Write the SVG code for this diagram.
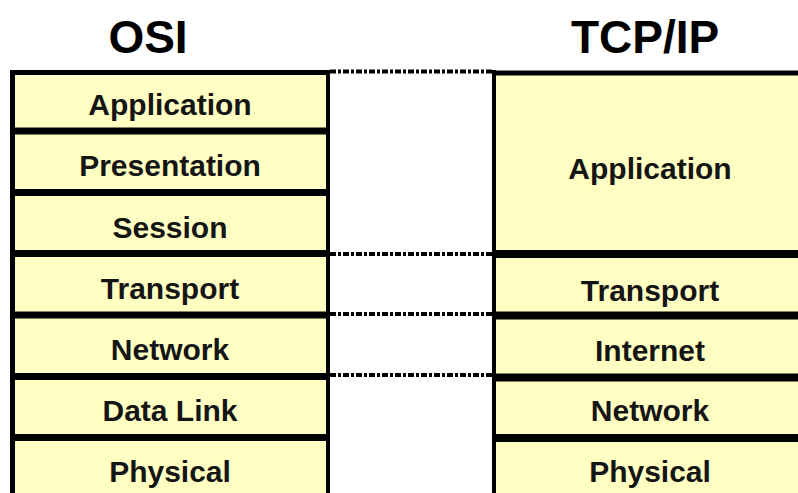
<svg xmlns="http://www.w3.org/2000/svg" width="798" height="493" viewBox="0 0 798 493">
<style>
.cell{fill:#FFFFC4;stroke:none}
.lbl{font-family:"Liberation Sans",Arial,sans-serif;font-weight:bold;font-size:30px;fill:#151515;text-anchor:middle}
.hdr{font-family:"Liberation Sans",Arial,sans-serif;font-weight:bold;font-size:46px;fill:#000;text-anchor:middle}
.frame{stroke:#000;fill:none}
.dash{stroke:#000;stroke-width:4;stroke-dasharray:6 2 3 2;fill:none}
</style>
<rect width="798" height="493" fill="#fff"/>
<text class="hdr" x="148" y="53">OSI</text>
<text class="hdr" x="645" y="53">TCP/IP</text>
<g id="osi">
<g id="osi-application"><rect class="cell" x="12" y="72" width="316" height="59"/><text class="lbl" x="170" y="115">Application</text></g>
<g id="osi-presentation"><rect class="cell" x="12" y="131" width="316" height="62"/><text class="lbl" x="170" y="176">Presentation</text></g>
<g id="osi-session"><rect class="cell" x="12" y="192" width="316" height="62"/><text class="lbl" x="170" y="238">Session</text></g>
<g id="osi-transport"><rect class="cell" x="12" y="253" width="316" height="62"/><text class="lbl" x="170" y="299">Transport</text></g>
<g id="osi-network"><rect class="cell" x="12" y="315" width="316" height="62"/><text class="lbl" x="170" y="360">Network</text></g>
<g id="osi-datalink"><rect class="cell" x="12" y="376" width="316" height="62"/><text class="lbl" x="170" y="421">Data Link</text></g>
<g id="osi-physical"><rect class="cell" x="12" y="437" width="316" height="60"/><text class="lbl" x="170" y="482">Physical</text></g>
<g class="frame">
<line x1="12.5" y1="70" x2="12.5" y2="493" stroke-width="5"/>
<line x1="328" y1="70" x2="328" y2="493" stroke-width="4"/>
<line x1="10" y1="72.5" x2="330" y2="72.5" stroke-width="5"/>
<line x1="10" y1="131" x2="330" y2="131" stroke-width="7"/>
<line x1="10" y1="192.5" x2="330" y2="192.5" stroke-width="7"/>
<line x1="10" y1="253.5" x2="330" y2="253.5" stroke-width="7"/>
<line x1="10" y1="315" x2="330" y2="315" stroke-width="7"/>
<line x1="10" y1="376.5" x2="330" y2="376.5" stroke-width="7"/>
<line x1="10" y1="437.5" x2="330" y2="437.5" stroke-width="7"/>
</g>
</g>
<g id="tcpip">
<g id="tcp-application"><rect class="cell" x="494" y="73" width="304" height="181"/><text class="lbl" x="650" y="179">Application</text></g>
<g id="tcp-transport"><rect class="cell" x="494" y="254" width="304" height="62"/><text class="lbl" x="650" y="301">Transport</text></g>
<g id="tcp-internet"><rect class="cell" x="494" y="315" width="304" height="62"/><text class="lbl" x="650" y="361">Internet</text></g>
<g id="tcp-network"><rect class="cell" x="494" y="377" width="304" height="62"/><text class="lbl" x="650" y="421">Network</text></g>
<g id="tcp-physical"><rect class="cell" x="494" y="438" width="304" height="60"/><text class="lbl" x="650" y="482">Physical</text></g>
<g class="frame">
<line x1="494" y1="70" x2="494" y2="493" stroke-width="4"/>
<line x1="492" y1="73" x2="798" y2="73" stroke-width="5"/>
<line x1="492" y1="254" x2="798" y2="254" stroke-width="8"/>
<line x1="492" y1="315.5" x2="798" y2="315.5" stroke-width="8"/>
<line x1="492" y1="377.5" x2="798" y2="377.5" stroke-width="8"/>
<line x1="492" y1="438" x2="798" y2="438" stroke-width="8"/>
</g>
</g>
<g id="connectors">
<line class="dash" x1="330" y1="71.5" x2="492" y2="71.5"/>
<line class="dash" x1="330" y1="254" x2="492" y2="254"/>
<line class="dash" x1="330" y1="314" x2="492" y2="314"/>
<line class="dash" x1="330" y1="375" x2="492" y2="375"/>
</g>
</svg>
